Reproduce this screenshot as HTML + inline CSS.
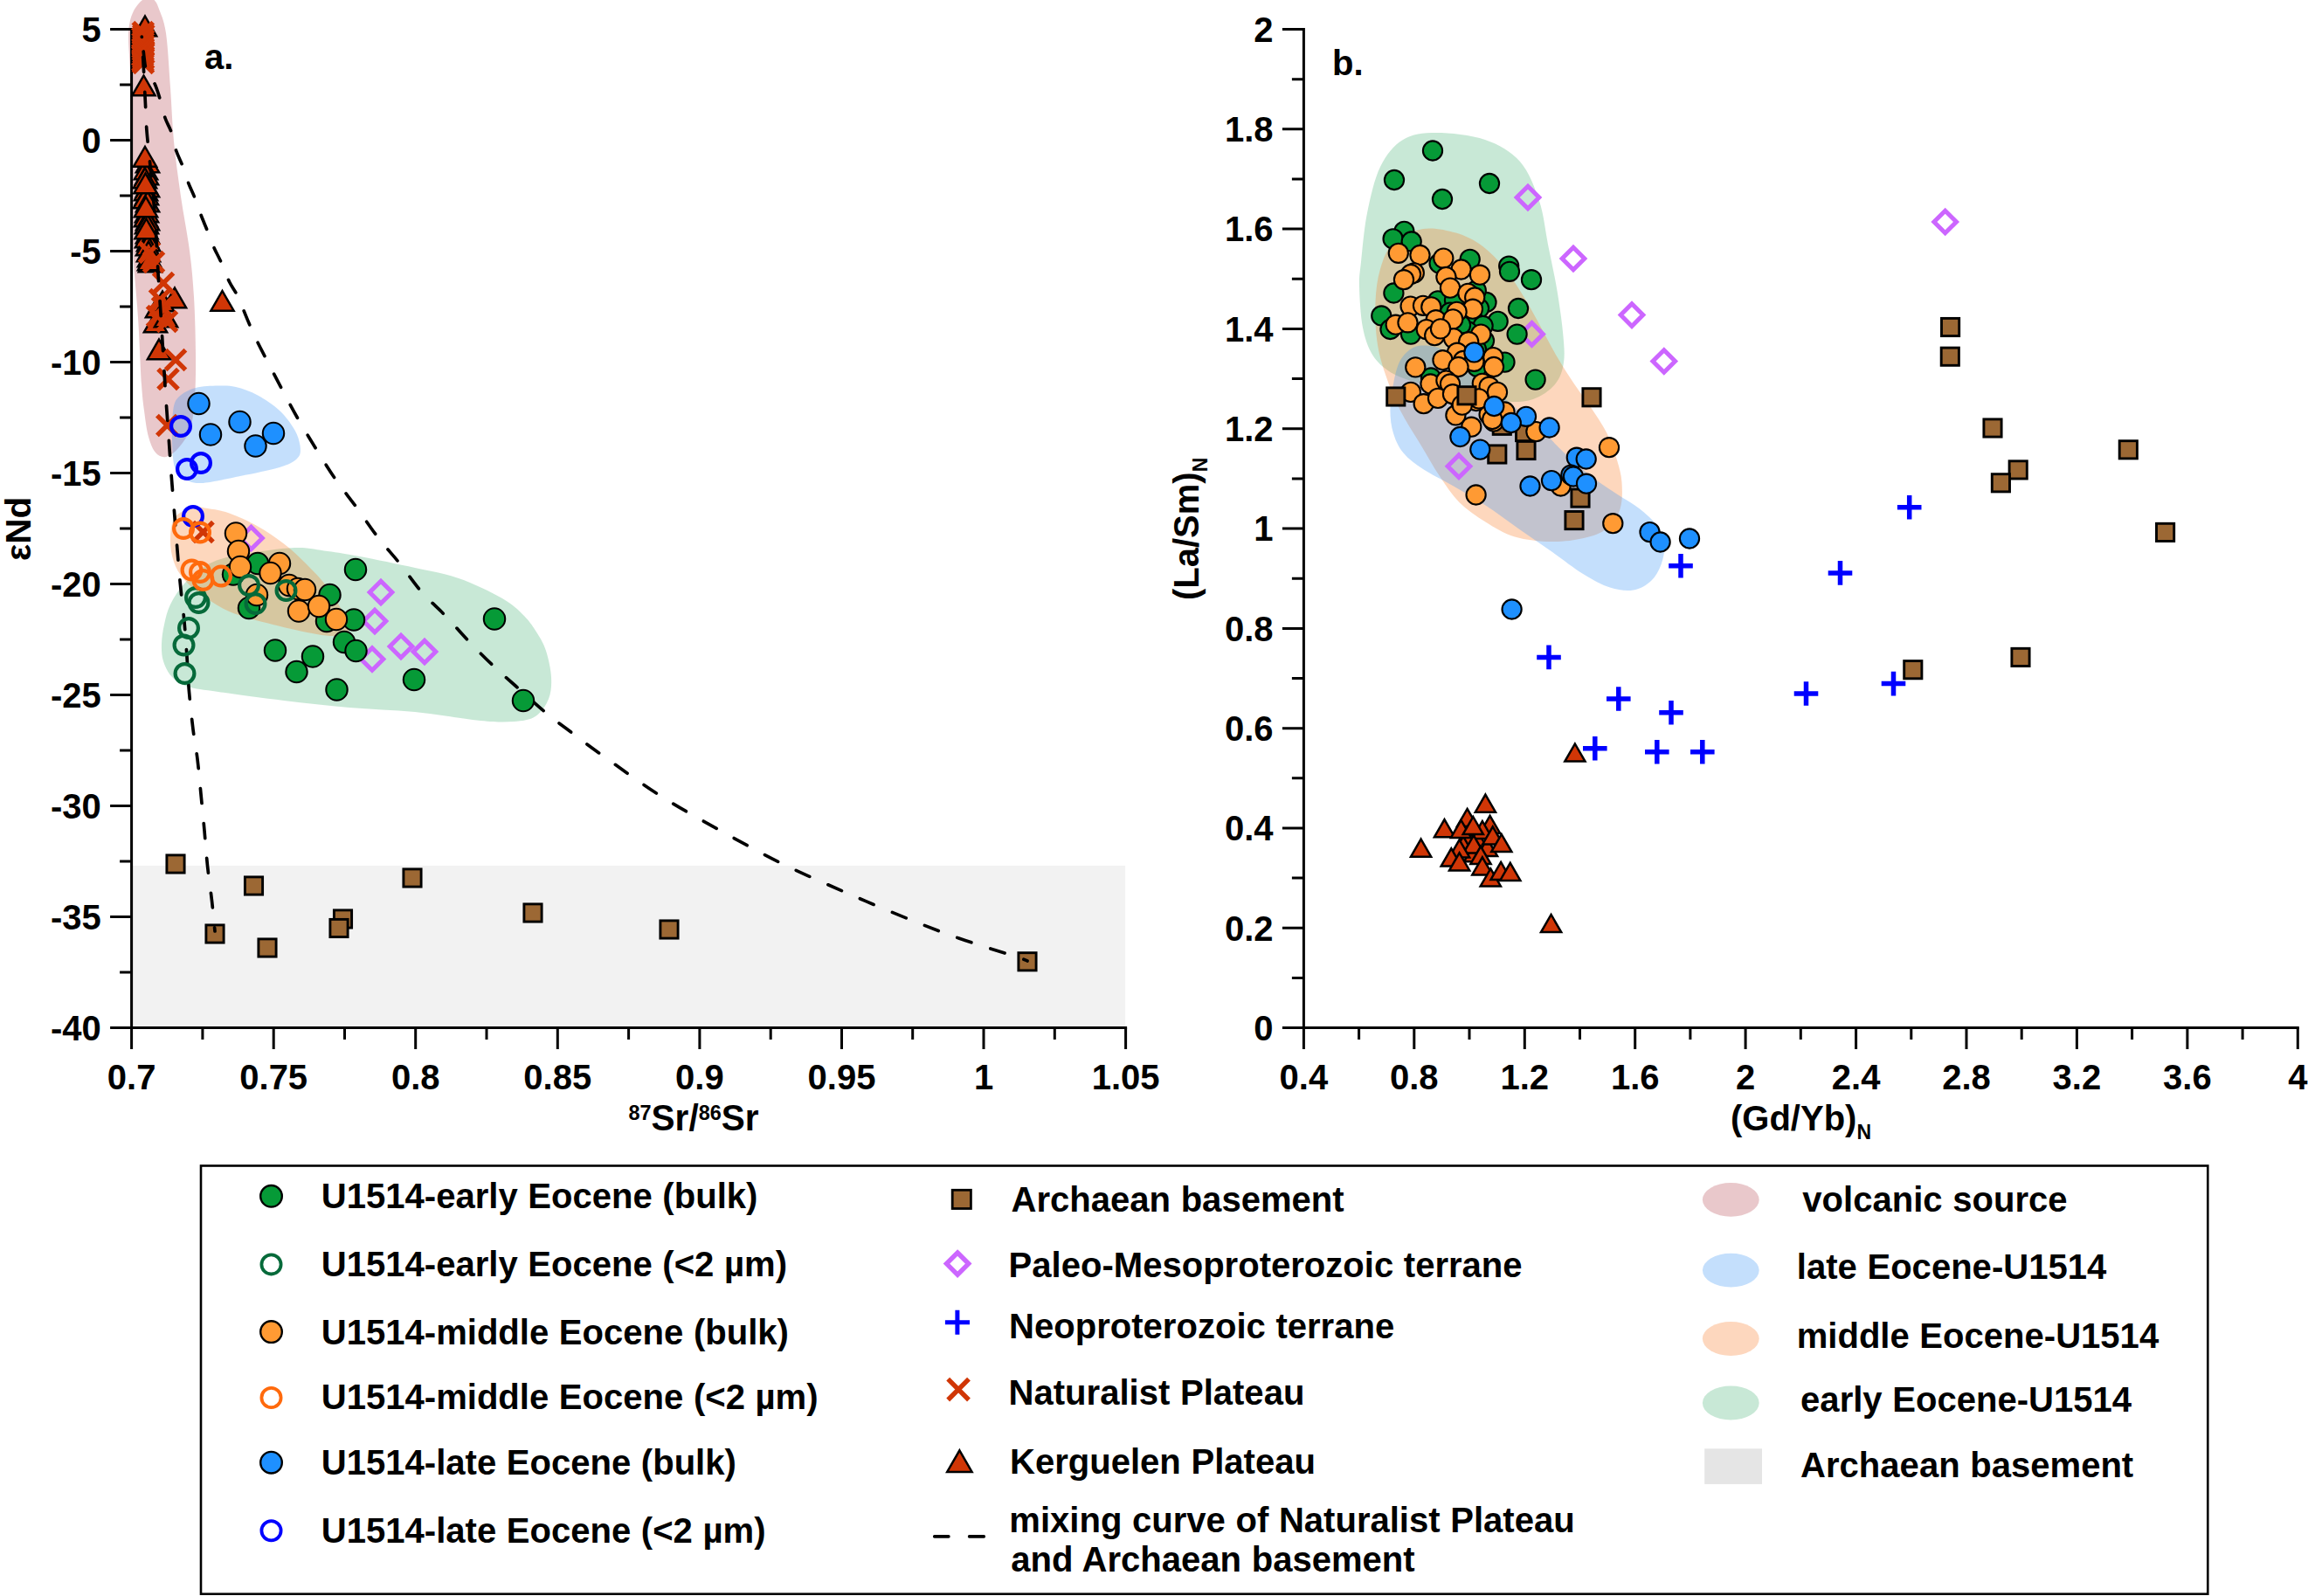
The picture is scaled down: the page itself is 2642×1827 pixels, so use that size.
<!DOCTYPE html>
<html lang="en"><head><meta charset="utf-8"><title>Sr-Nd isotopes and REE ratios of U1514 sediments</title>
<style>html,body{margin:0;padding:0;background:#fff}svg{display:block}text{font-family:'Liberation Sans', Arial, sans-serif;font-weight:bold;fill:#000;word-spacing:0.5px}</style>
</head><body>
<svg width="2642" height="1827" viewBox="0 0 2642 1827">
<rect width="2642" height="1827" fill="#fff"/>
<rect x="150.6" y="991" width="1137.5" height="185.4" fill="#F2F2F2"/>
<path d="M171.5 -4C173.5 -3.7 175.3 -1.7 177 0.5C178.7 2.7 179.3 2.8 181.5 9C183.7 15.2 187.8 22.8 190 38C192.2 53.2 193.5 79.3 195 100C196.5 120.7 197 141.2 199 162C201 182.8 204 204.2 207 225C210 245.8 214.5 267.8 217 287C219.5 306.2 220.8 320.3 222 340C223.2 359.7 223.8 385.8 224 405C224.2 424.2 224 440.8 223 455C222 469.2 221 480.5 218 490C215 499.5 209.7 506.5 205 512C200.3 517.5 194.5 522 190 523C185.5 524 181.3 521.8 178 518C174.7 514.2 172.2 508 170 500C167.8 492 166.3 480 165 470C163.7 460 163 455 162 440C161 425 159.8 395 159 380C158.2 365 158 363.3 157 350C156 336.7 153.9 315 153 300C152.1 285 151.9 276.7 151.5 260C151.1 243.3 150.8 227.5 150.5 200C150.2 172.5 150.1 120.8 149.5 95C148.9 69.2 147.2 56.5 147 45C146.8 33.5 147.6 31.2 148.5 26C149.4 20.8 150.9 17 152.5 13.5C154.1 10 155.9 7.5 158 5C160.1 2.5 162.8 0 165 -1.5C167.2 -3 169.5 -4.3 171.5 -4Z" fill="#B64852" fill-opacity="0.3"/>
<path d="M337 627C353.7 626.3 362.5 629.3 375 631C387.5 632.7 395.3 633.8 412 637C428.7 640.2 456.2 645.8 475 650C493.8 654.2 508.3 656.2 525 662C541.7 667.8 562.5 677.8 575 685C587.5 692.2 593.3 698.3 600 705C606.7 711.7 610.8 718.3 615 725C619.2 731.7 622.3 736.7 625 745C627.7 753.3 630.5 765.8 631 775C631.5 784.2 631 792.5 628 800C625 807.5 619.7 815.7 613 820C606.3 824.3 598.5 825.2 588 826C577.5 826.8 568.8 826.8 550 825C531.2 823.2 500 817.5 475 815C450 812.5 425 812.2 400 810C375 807.8 350 805 325 802C300 799 268.3 794.7 250 792C231.7 789.3 223.8 788.8 215 786C206.2 783.2 201.7 779.8 197 775C192.3 770.2 189 763.3 187 757C185 750.7 184.8 744 185 737C185.2 730 186.3 722.5 188 715C189.7 707.5 191 700 195 692C199 684 204.5 674.8 212 667C219.5 659.2 229.5 650.3 240 645C250.5 639.7 258.8 638 275 635C291.2 632 320.3 627.7 337 627Z" fill="#48B276" fill-opacity="0.3"/>
<path d="M220 581C226.2 579.2 230.4 580.9 237.5 582C244.6 583.1 252.9 584.1 262.5 587.5C272.1 590.9 284.6 596.7 295 602.5C305.4 608.3 315.8 615.4 325 622.5C334.2 629.6 341.7 636.7 350 645C358.3 653.3 367.5 662.5 375 672.5C382.5 682.5 390.8 697.1 395 705C399.2 712.9 401.2 716.2 400 720C398.8 723.8 393.8 726.5 387.5 727.5C381.2 728.5 375 728.1 362.5 726C350 723.9 329.2 719.3 312.5 715C295.8 710.7 276.2 705.8 262.5 700C248.8 694.2 238.8 686.2 230 680C221.2 673.8 215.2 668.8 210 662.5C204.8 656.2 201.2 650 198.8 642.5C196.2 635 194.8 625.8 195 617.5C195.2 609.2 195.8 598.6 200 592.5C204.2 586.4 213.8 582.8 220 581Z" fill="#F87A26" fill-opacity="0.3"/>
<path d="M250 441.5C257.7 441.3 262.5 441.2 270 443C277.5 444.8 286.7 448 295 452.5C303.3 457 312.9 463.3 320 470C327.1 476.7 333.5 485.4 337.5 492.5C341.5 499.6 343.3 507.1 343.8 512.5C344.2 517.9 344 521.2 340 525C336 528.8 330.8 531.7 320 535C309.2 538.3 290 542 275 545C260 548 240.8 552.6 230 553C219.2 553.4 215 550.5 210 547.5C205 544.5 202.2 542.1 200 535C197.8 527.9 197.3 516 197 505C196.7 494 197 477.5 198.3 469C199.6 460.5 200.7 458.2 205 454C209.3 449.8 216.5 446.1 224 444C231.5 441.9 242.3 441.7 250 441.5Z" fill="#3A94F5" fill-opacity="0.3"/>
<g stroke="#000" stroke-width="3" fill="none">
<path d="M150.6 31.9V1176.4H1290.1"/>
<path d="M150.6 33.4h-24.5M150.6 96.9h-13.5M150.6 160.4h-24.5M150.6 223.9h-13.5M150.6 287.4h-24.5M150.6 350.9h-13.5M150.6 414.4h-24.5M150.6 477.9h-13.5M150.6 541.4h-24.5M150.6 604.9h-13.5M150.6 668.4h-24.5M150.6 731.9h-13.5M150.6 795.4h-24.5M150.6 858.9h-13.5M150.6 922.4h-24.5M150.6 985.9h-13.5M150.6 1049.4h-24.5M150.6 1112.9h-13.5M150.6 1176.4h-24.5M150.6 1176.4v24.5M231.9 1176.4v13.5M313.2 1176.4v24.5M394.5 1176.4v13.5M475.7 1176.4v24.5M557 1176.4v13.5M638.3 1176.4v24.5M719.6 1176.4v13.5M800.9 1176.4v24.5M882.2 1176.4v13.5M963.5 1176.4v24.5M1044.7 1176.4v13.5M1126 1176.4v24.5M1207.3 1176.4v13.5M1288.6 1176.4v24.5"/>
</g>
<g fill="#9C6834" stroke="#000" stroke-width="2.9">
<rect x="190.9" y="978.9" width="20.2" height="20.2"/>
<rect x="280.4" y="1003.9" width="20.2" height="20.2"/>
<rect x="461.9" y="994.9" width="20.2" height="20.2"/>
<rect x="599.9" y="1034.9" width="20.2" height="20.2"/>
<rect x="382.4" y="1041.9" width="20.2" height="20.2"/>
<rect x="377.9" y="1052.4" width="20.2" height="20.2"/>
<rect x="235.9" y="1058.9" width="20.2" height="20.2"/>
<rect x="295.9" y="1074.9" width="20.2" height="20.2"/>
<rect x="755.9" y="1053.9" width="20.2" height="20.2"/>
<rect x="1165.9" y="1090.7" width="20.2" height="20.2"/>
</g>
<g fill="#D03606" stroke="#000" stroke-width="2.5" stroke-linejoin="miter">
<path d="M166 18.5L179.1 41.2L152.9 41.2Z"/>
<path d="M164.5 86.5L177.6 109.2L151.4 109.2Z"/>
<path d="M169 174.5L182.1 197.2L155.9 197.2Z"/>
<path d="M167 182.5L180.1 205.2L153.9 205.2Z"/>
<path d="M168 188.5L181.1 211.2L154.9 211.2Z"/>
<path d="M166 192.5L179.1 215.2L152.9 215.2Z"/>
<path d="M169 202.5L182.1 225.2L155.9 225.2Z"/>
<path d="M167 206.5L180.1 229.2L153.9 229.2Z"/>
<path d="M168 211.5L181.1 234.2L154.9 234.2Z"/>
<path d="M166 215.5L179.1 238.2L152.9 238.2Z"/>
<path d="M169 219.5L182.1 242.2L155.9 242.2Z"/>
<path d="M168 231.5L181.1 254.2L154.9 254.2Z"/>
<path d="M167 236.5L180.1 259.2L153.9 259.2Z"/>
<path d="M169 240.5L182.1 263.2L155.9 263.2Z"/>
<path d="M168 244.5L181.1 267.2L154.9 267.2Z"/>
<path d="M169 255.5L182.1 278.2L155.9 278.2Z"/>
<path d="M168 260.5L181.1 283.2L154.9 283.2Z"/>
<path d="M170 264.5L183.1 287.2L156.9 287.2Z"/>
<path d="M169 269.5L182.1 292.2L155.9 292.2Z"/>
<path d="M171 282.5L184.1 305.2L157.9 305.2Z"/>
<path d="M172 288.5L185.1 311.2L158.9 311.2Z"/>
<path d="M166 168L179.1 190.7L152.9 190.7Z"/>
<path d="M166.5 198.5L179.6 221.2L153.4 221.2Z"/>
<path d="M167 225.5L180.1 248.2L153.9 248.2Z"/>
<path d="M167.5 250.5L180.6 273.2L154.4 273.2Z"/>
<path d="M170 276.5L183.1 299.2L156.9 299.2Z"/>
<path d="M171 286.5L184.1 309.2L157.9 309.2Z"/>
<path d="M186 333.5L199.1 356.2L172.9 356.2Z"/>
<path d="M180 340.5L193.1 363.2L166.9 363.2Z"/>
<path d="M184 348.5L197.1 371.2L170.9 371.2Z"/>
<path d="M178 357.5L191.1 380.2L164.9 380.2Z"/>
<path d="M190 351.5L203.1 374.2L176.9 374.2Z"/>
<path d="M200 329.5L213.1 352.2L186.9 352.2Z"/>
<path d="M182 388.5L195.1 411.2L168.9 411.2Z"/>
<path d="M254.5 333L267.6 355.7L241.4 355.7Z"/>
</g>
<g stroke="#D03606" stroke-width="5.4" fill="none">
<path d="M221.1 597.6L243.9 620.4M221.1 620.4L243.9 597.6"/>
</g>
<g stroke="#D03606" stroke-width="5.4" fill="none">
<path d="M152.4 25.6L175.2 48.4M152.4 48.4L175.2 25.6"/>
<path d="M152.9 28.6L175.7 51.4M152.9 51.4L175.7 28.6"/>
<path d="M151.9 31.6L174.7 54.4M151.9 54.4L174.7 31.6"/>
<path d="M152.7 34.6L175.5 57.4M152.7 57.4L175.5 34.6"/>
<path d="M152.1 37.6L174.9 60.4M152.1 60.4L174.9 37.6"/>
<path d="M152.6 40.6L175.4 63.4M152.6 63.4L175.4 40.6"/>
<path d="M152.2 43.6L175 66.4M152.2 66.4L175 43.6"/>
<path d="M152.4 46.6L175.2 69.4M152.4 69.4L175.2 46.6"/>
<path d="M152.9 49.6L175.7 72.4M152.9 72.4L175.7 49.6"/>
<path d="M151.9 52.6L174.7 75.4M151.9 75.4L174.7 52.6"/>
<path d="M152.7 55.6L175.5 78.4M152.7 78.4L175.5 55.6"/>
<path d="M152.1 58.6L174.9 81.4M152.1 81.4L174.9 58.6"/>
<path d="M152.6 60.6L175.4 83.4M152.6 83.4L175.4 60.6"/>
<path d="M159.6 277.6L182.4 300.4M159.6 300.4L182.4 277.6"/>
<path d="M164.6 288.6L187.4 311.4M164.6 311.4L187.4 288.6"/>
<path d="M175.6 312.6L198.4 335.4M175.6 335.4L198.4 312.6"/>
<path d="M171.6 331.6L194.4 354.4M171.6 354.4L194.4 331.6"/>
<path d="M174.6 340.6L197.4 363.4M174.6 363.4L197.4 340.6"/>
<path d="M179.6 356.6L202.4 379.4M179.6 379.4L202.4 356.6"/>
<path d="M168.6 350.6L191.4 373.4M168.6 373.4L191.4 350.6"/>
<path d="M189.6 400.6L212.4 423.4M189.6 423.4L212.4 400.6"/>
<path d="M181.1 422.6L203.9 445.4M181.1 445.4L203.9 422.6"/>
<path d="M179.9 475.6L202.7 498.4M179.9 498.4L202.7 475.6"/>
</g>
<g fill="none" stroke="#000" stroke-width="3.7" stroke-dasharray="17 23" stroke-linecap="round">
<path d="M162.3 42C162.7 48.3 163.8 67 164.5 80C165.2 93 165.9 108.3 166.5 120C167.1 131.7 167 137.5 168 150C169 162.5 170.9 178.3 172.5 195C174.1 211.7 176.1 230.5 177.5 250C178.9 269.5 179.8 291.2 181 312C182.2 332.8 183.7 353.3 185 375C186.3 396.7 187.8 422.5 189 442C190.2 461.5 191.3 475.3 192.5 492C193.7 508.7 194.8 525.3 196 542C197.2 558.7 198.7 575.3 200 592C201.3 608.7 202.8 627.3 204 642C205.2 656.7 206.3 668.3 207.5 680C208.7 691.7 209.9 700 211 712C212.1 724 213.1 738.7 214 752C214.9 765.3 215.3 778.2 216.5 792C217.7 805.8 219.4 822.2 221 835C222.6 847.8 224.5 856.7 226 869C227.5 881.3 228.7 895.3 230 909C231.3 922.7 232.8 937.3 234 951C235.2 964.7 236.1 977.7 237.5 991C238.9 1004.3 241.1 1018.5 242.5 1031C243.9 1043.5 245.4 1060.2 246 1066" stroke-dashoffset="16.5"/>
<path d="M162.6 43C162.8 45 163.4 51.2 163.8 55C164.2 58.8 164.5 62.3 165 66C165.5 69.7 165.7 73.6 166.6 77C167.5 80.4 168.8 83.5 170.5 86.5C172.2 89.5 174.7 91 176.8 95.3C178.9 99.6 180.9 106 182.9 112.6C184.9 119.2 186.8 128.6 189 135C191.2 141.4 193.9 144.8 196 151C198.1 157.2 199.3 165.5 201.5 172C203.7 178.5 206.7 183.8 209 190C211.3 196.2 213.2 202.9 215.5 209C217.8 215.1 220.6 220.3 223 226.5C225.4 232.7 227.6 239.7 230 246C232.4 252.3 235 258.2 237.5 264.5C240 270.8 242.4 277.6 245 283.5C247.6 289.4 250.1 293.5 253 300C255.9 306.5 259.2 315.8 262.5 322.5C265.8 329.2 268.8 332.1 272.5 340C276.2 347.9 280.8 360.5 285 370C289.2 379.5 291.2 384.5 297.5 397C303.8 409.5 315.4 431.6 322.5 445C329.6 458.4 333.3 465.8 340 477.5C346.7 489.2 355 502.9 362.5 515C370 527.1 377.5 539.2 385 550C392.5 560.8 399.6 569.2 407.5 580C415.4 590.8 424.2 604.2 432.5 615C440.8 625.8 449.2 634.6 457.5 645C465.8 655.4 473.8 667.5 482.5 677.5C491.2 687.5 500.8 695.4 510 705C519.2 714.6 528.3 725.4 537.5 735C546.7 744.6 556.2 754.2 565 762.5C573.8 770.8 580 776.1 590 785C600 793.9 613.8 806.7 625 816C636.2 825.3 646.7 832.8 657.5 841C668.3 849.2 673.6 853.3 690 865C706.4 876.7 733.5 896.7 756 911C778.5 925.3 801.7 938 825 951C848.3 964 871.8 977.1 896 989C920.2 1000.9 945.6 1011.8 970 1022.5C994.4 1033.2 1021.2 1044.4 1042.5 1053C1063.8 1061.6 1077.5 1067 1097.5 1074C1117.5 1081 1149.4 1090.7 1162.5 1095C1175.6 1099.3 1173.8 1099.2 1176 1100" stroke-dashoffset="24"/>
</g>
<g fill="none" stroke="#CC66FF" stroke-width="5">
<path d="M287.5 603.2L300.3 616L287.5 628.8L274.7 616Z"/>
<path d="M436 665.2L448.8 678L436 690.8L423.2 678Z"/>
<path d="M429 698.2L441.8 711L429 723.8L416.2 711Z"/>
<path d="M459 727.2L471.8 740L459 752.8L446.2 740Z"/>
<path d="M486 733.2L498.8 746L486 758.8L473.2 746Z"/>
<path d="M426 741.7L438.8 754.5L426 767.3L413.2 754.5Z"/>
</g>
<g fill="#069A37" stroke="#000" stroke-width="2.1">
<circle cx="295" cy="645" r="12.2"/>
<circle cx="267" cy="657.5" r="12.2"/>
<circle cx="407" cy="652" r="12.2"/>
<circle cx="377.5" cy="681" r="12.2"/>
<circle cx="285" cy="696" r="12.2"/>
<circle cx="405" cy="709.5" r="12.2"/>
<circle cx="374" cy="711" r="12.2"/>
<circle cx="566" cy="708.5" r="12.2"/>
<circle cx="394" cy="735" r="12.2"/>
<circle cx="407.5" cy="745" r="12.2"/>
<circle cx="315" cy="744.5" r="12.2"/>
<circle cx="358" cy="751.5" r="12.2"/>
<circle cx="339.5" cy="769" r="12.2"/>
<circle cx="474" cy="778" r="12.2"/>
<circle cx="385.5" cy="789.5" r="12.2"/>
<circle cx="599" cy="802" r="12.2"/>
</g>
<g fill="#FF9A33" stroke="#000" stroke-width="2.1">
<circle cx="270" cy="610.5" r="12.2"/>
<circle cx="273" cy="631" r="12.2"/>
<circle cx="275" cy="649" r="12.2"/>
<circle cx="320" cy="645" r="12.2"/>
<circle cx="309.5" cy="656" r="12.2"/>
<circle cx="331" cy="670" r="12.2"/>
<circle cx="341" cy="674" r="12.2"/>
<circle cx="349" cy="675" r="12.2"/>
<circle cx="294" cy="681" r="12.2"/>
<circle cx="342" cy="699.5" r="12.2"/>
<circle cx="365" cy="694" r="12.2"/>
<circle cx="385" cy="709" r="12.2"/>
</g>
<g fill="#1E90FF" stroke="#000" stroke-width="2.1">
<circle cx="227.5" cy="462" r="12.2"/>
<circle cx="274.5" cy="483" r="12.2"/>
<circle cx="241" cy="497.5" r="12.2"/>
<circle cx="313" cy="496" r="12.2"/>
<circle cx="292.5" cy="510.5" r="12.2"/>
</g>
<g fill="none" stroke="#066A3A" stroke-width="4.2">
<circle cx="285" cy="670" r="10.9"/>
<circle cx="327.5" cy="676" r="10.9"/>
<circle cx="292.5" cy="691" r="10.9"/>
<circle cx="224" cy="684" r="10.9"/>
<circle cx="227.5" cy="690" r="10.9"/>
<circle cx="216" cy="719" r="10.9"/>
<circle cx="210.5" cy="738.5" r="10.9"/>
<circle cx="211.5" cy="771" r="10.9"/>
</g>
<g fill="none" stroke="#0000FF" stroke-width="4.2">
<circle cx="207" cy="488" r="10.9"/>
<circle cx="230" cy="530" r="10.9"/>
<circle cx="214" cy="537" r="10.9"/>
<circle cx="221" cy="591" r="10.9"/>
</g>
<g fill="none" stroke="#FF6A0D" stroke-width="4.2">
<circle cx="210" cy="605" r="10.9"/>
<circle cx="229" cy="609.5" r="10.9"/>
<circle cx="219.5" cy="652.5" r="10.9"/>
<circle cx="229" cy="655" r="10.9"/>
<circle cx="232.5" cy="664" r="10.9"/>
<circle cx="253" cy="659.5" r="10.9"/>
</g>
<text x="115.8" y="48" font-size="40" text-anchor="end">5</text>
<text x="115.8" y="175" font-size="40" text-anchor="end">0</text>
<text x="115.8" y="302" font-size="40" text-anchor="end">-5</text>
<text x="115.8" y="429" font-size="40" text-anchor="end">-10</text>
<text x="115.8" y="556" font-size="40" text-anchor="end">-15</text>
<text x="115.8" y="683" font-size="40" text-anchor="end">-20</text>
<text x="115.8" y="810" font-size="40" text-anchor="end">-25</text>
<text x="115.8" y="937" font-size="40" text-anchor="end">-30</text>
<text x="115.8" y="1064" font-size="40" text-anchor="end">-35</text>
<text x="115.8" y="1191" font-size="40" text-anchor="end">-40</text>
<text x="150.6" y="1247.2" font-size="40" text-anchor="middle">0.7</text>
<text x="313.2" y="1247.2" font-size="40" text-anchor="middle">0.75</text>
<text x="475.7" y="1247.2" font-size="40" text-anchor="middle">0.8</text>
<text x="638.3" y="1247.2" font-size="40" text-anchor="middle">0.85</text>
<text x="800.9" y="1247.2" font-size="40" text-anchor="middle">0.9</text>
<text x="963.5" y="1247.2" font-size="40" text-anchor="middle">0.95</text>
<text x="1126" y="1247.2" font-size="40" text-anchor="middle">1</text>
<text x="1288.6" y="1247.2" font-size="40" text-anchor="middle">1.05</text>
<text x="234" y="79.2" font-size="40" text-anchor="start">a.</text>
<text transform="translate(719.5 1294.4) scale(0.977 1.02)" font-size="41.5"><tspan font-size="24" dy="-12.3">87</tspan><tspan dy="12.3">Sr/</tspan><tspan font-size="24" dy="-12.3">86</tspan><tspan dy="12.3">Sr</tspan></text>
<text transform="translate(34.8 642) rotate(-90)" font-size="40.6">εNd</text>
<path d="M1644 152C1659.7 152 1684 154.5 1700 160C1716 165.5 1729.7 173.3 1740 185C1750.3 196.7 1756.7 214.2 1762 230C1767.3 245.8 1768.7 263.3 1772 280C1775.3 296.7 1779.2 313.3 1782 330C1784.8 346.7 1787.7 365.8 1789 380C1790.3 394.2 1791.5 405 1790 415C1788.5 425 1785.8 433 1780 440C1774.2 447 1764.2 453.7 1755 457C1745.8 460.3 1735.8 460.3 1725 460C1714.2 459.7 1702.5 457.3 1690 455C1677.5 452.7 1662.5 449.2 1650 446C1637.5 442.8 1625 439.5 1615 436C1605 432.5 1597.3 430 1590 425C1582.7 420 1576 414.3 1571 406C1566 397.7 1562.5 388 1560 375C1557.5 362 1556.3 340.5 1556 328C1555.7 315.5 1556.5 314 1558 300C1559.5 286 1561.3 262.2 1565 244C1568.7 225.8 1573.2 205 1580 191C1586.8 177 1595.3 166.5 1606 160C1616.7 153.5 1628.3 152 1644 152Z" fill="#48B276" fill-opacity="0.3"/>
<path d="M1629 262C1640.9 260.1 1655.3 263.3 1666.6 266.6C1677.9 269.9 1687.3 274.7 1696.7 281.6C1706.1 288.5 1714.8 298 1723 308C1731.2 318 1738.7 330.5 1745.6 341.8C1752.5 353.1 1758.2 364.3 1764.4 375.6C1770.6 386.9 1776.7 398.9 1783 409.5C1789.3 420.1 1795.7 430.1 1802 439.5C1808.3 448.9 1814.5 456.5 1820.8 465.9C1827 475.3 1834.5 486 1839.5 496C1844.5 506 1848 516.6 1850.8 526C1853.6 535.4 1855.9 542.9 1856.5 552.3C1857.1 561.7 1857.4 573.6 1854.6 582.4C1851.8 591.2 1846.4 599.4 1839.5 605C1832.6 610.6 1823.7 613.5 1813 616C1802.3 618.5 1788.8 620.3 1775.6 620C1762.4 619.7 1746.5 618.2 1734 614.4C1721.5 610.6 1711.1 604 1700.5 597.4C1689.9 590.8 1679.2 583.7 1670.4 574.9C1661.6 566.1 1655.4 556.1 1647.8 544.8C1640.2 533.5 1632.5 519.5 1625 507C1617.5 494.5 1609.2 482.7 1602.7 469.6C1596.2 456.5 1590.2 441.5 1585.8 428.3C1581.4 415.1 1578.3 404.5 1576.4 390.7C1574.5 376.9 1573.9 359.4 1574.5 345.6C1575.1 331.8 1576.6 319.3 1580 308C1583.4 296.7 1586.8 285.7 1595 278C1603.2 270.3 1617.1 263.9 1629 262Z" fill="#F87A26" fill-opacity="0.3"/>
<path d="M1636.5 396C1642.7 396.7 1647.5 397.9 1655 402C1662.5 406.1 1672.9 413.9 1681.7 420.7C1690.5 427.5 1699.3 435.5 1708 443C1716.7 450.5 1724.6 457.7 1734 465.9C1743.4 474.1 1755 483.2 1764.4 492C1773.9 500.8 1781.3 509.7 1790.7 518.5C1800.1 527.3 1810.8 537 1820.8 544.8C1830.8 552.6 1841.4 559.2 1850.8 565.5C1860.2 571.8 1869.5 576.5 1877 582.4C1884.5 588.3 1891.3 594.1 1896 601C1900.7 607.9 1904.1 616.3 1905 623.8C1905.9 631.3 1904.1 639.1 1901.6 646C1899.1 652.9 1895.3 660.1 1890 665C1884.7 669.9 1877.4 674.3 1869.6 675.6C1861.8 676.9 1852.4 675.6 1843 672.6C1833.6 669.6 1824.2 664.4 1813 657.5C1801.8 650.6 1788.1 639.8 1775.6 631C1763.1 622.2 1750.5 613.7 1738 605C1725.5 596.3 1713 586.8 1700.5 578.6C1688 570.4 1674.9 562.9 1663 556C1651.1 549.1 1638.4 543.2 1629 537C1619.6 530.8 1612.2 525.3 1606.5 518.5C1600.8 511.7 1597.5 504.1 1595 496C1592.5 487.9 1591.4 479 1591.4 469.6C1591.4 460.2 1593.1 448.9 1595 439.5C1596.9 430.1 1598.9 419.9 1602.7 413C1606.5 406.1 1612.1 400.8 1617.7 398C1623.3 395.2 1630.3 395.3 1636.5 396Z" fill="#3A94F5" fill-opacity="0.3"/>
<g stroke="#000" stroke-width="3" fill="none">
<path d="M1492.4 32V1176.6H2631.8"/>
<path d="M1492.4 33.5h-24.5M1492.4 90.7h-13.5M1492.4 147.8h-24.5M1492.4 205h-13.5M1492.4 262.1h-24.5M1492.4 319.3h-13.5M1492.4 376.4h-24.5M1492.4 433.6h-13.5M1492.4 490.7h-24.5M1492.4 547.9h-13.5M1492.4 605h-24.5M1492.4 662.2h-13.5M1492.4 719.4h-24.5M1492.4 776.5h-13.5M1492.4 833.7h-24.5M1492.4 890.8h-13.5M1492.4 948h-24.5M1492.4 1005.1h-13.5M1492.4 1062.3h-24.5M1492.4 1119.4h-13.5M1492.4 1176.6h-24.5M1492.4 1176.6v24.5M1555.6 1176.6v13.5M1618.8 1176.6v24.5M1682 1176.6v13.5M1745.3 1176.6v24.5M1808.5 1176.6v13.5M1871.7 1176.6v24.5M1934.9 1176.6v13.5M1998.1 1176.6v24.5M2061.3 1176.6v13.5M2124.6 1176.6v24.5M2187.8 1176.6v13.5M2251 1176.6v24.5M2314.2 1176.6v13.5M2377.4 1176.6v24.5M2440.6 1176.6v13.5M2503.9 1176.6v24.5M2567.1 1176.6v13.5M2630.3 1176.6v24.5"/>
</g>
<g fill="none" stroke="#CC66FF" stroke-width="5">
<path d="M1749 213.2L1761.8 226L1749 238.8L1736.2 226Z"/>
<path d="M1801 283.2L1813.8 296L1801 308.8L1788.2 296Z"/>
<path d="M1868 347.8L1880.8 360.6L1868 373.4L1855.2 360.6Z"/>
<path d="M1753.5 369.6L1766.3 382.4L1753.5 395.2L1740.7 382.4Z"/>
<path d="M1904.8 400.7L1917.6 413.5L1904.8 426.3L1892 413.5Z"/>
<path d="M2226.7 241.2L2239.5 254L2226.7 266.8L2213.9 254Z"/>
<path d="M1670 520.9L1682.8 533.7L1670 546.5L1657.2 533.7Z"/>
</g>
<g fill="#069A37" stroke="#000" stroke-width="2.1">
<circle cx="1640" cy="172.5" r="11.1"/>
<circle cx="1596" cy="206" r="11.1"/>
<circle cx="1705" cy="210" r="11.1"/>
<circle cx="1651" cy="228" r="11.1"/>
<circle cx="1607.4" cy="264.8" r="11.1"/>
<circle cx="1594.6" cy="273.4" r="11.1"/>
<circle cx="1615.7" cy="276.5" r="11.1"/>
<circle cx="1682.7" cy="296.8" r="11.1"/>
<circle cx="1727.2" cy="304.6" r="11.1"/>
<circle cx="1728" cy="310.8" r="11.1"/>
<circle cx="1753" cy="320.2" r="11.1"/>
<circle cx="1647.6" cy="301.5" r="11.1"/>
<circle cx="1595.4" cy="335.5" r="11.1"/>
<circle cx="1646" cy="344.4" r="11.1"/>
<circle cx="1701.5" cy="346" r="11.1"/>
<circle cx="1738" cy="353" r="11.1"/>
<circle cx="1581.3" cy="361.5" r="11.1"/>
<circle cx="1714.7" cy="367.8" r="11.1"/>
<circle cx="1736.6" cy="382.6" r="11.1"/>
<circle cx="1591.5" cy="377" r="11.1"/>
<circle cx="1615" cy="382.6" r="11.1"/>
<circle cx="1689.8" cy="332.7" r="11.1"/>
<circle cx="1693" cy="353" r="11.1"/>
<circle cx="1686.6" cy="367" r="11.1"/>
<circle cx="1697.6" cy="373" r="11.1"/>
<circle cx="1680.4" cy="379.5" r="11.1"/>
<circle cx="1699" cy="390" r="11.1"/>
<circle cx="1722.5" cy="414.6" r="11.1"/>
<circle cx="1691" cy="420" r="11.1"/>
<circle cx="1638" cy="432.5" r="11.1"/>
<circle cx="1757.6" cy="434.6" r="11.1"/>
<circle cx="1665" cy="343.6" r="11.1"/>
<circle cx="1660" cy="357.6" r="11.1"/>
<circle cx="1672" cy="372" r="11.1"/>
<circle cx="1678" cy="392" r="11.1"/>
<circle cx="1690" cy="400" r="11.1"/>
</g>
<g fill="#9C6834" stroke="#000" stroke-width="2.9">
<rect x="1709.2" y="477.2" width="20.2" height="20.2"/>
<rect x="1735.5" y="484.5" width="20.2" height="20.2"/>
<rect x="1798.9" y="560" width="20.2" height="20.2"/>
</g>
<g fill="#FF9A33" stroke="#000" stroke-width="2.1">
<circle cx="1600.8" cy="289.8" r="11.1"/>
<circle cx="1625.5" cy="292" r="11.1"/>
<circle cx="1652.3" cy="295.6" r="11.1"/>
<circle cx="1672.6" cy="308.5" r="11.1"/>
<circle cx="1694" cy="314.7" r="11.1"/>
<circle cx="1655.4" cy="317" r="11.1"/>
<circle cx="1618.8" cy="312.4" r="11.1"/>
<circle cx="1615" cy="314" r="11.1"/>
<circle cx="1607" cy="320.2" r="11.1"/>
<circle cx="1660" cy="329.6" r="11.1"/>
<circle cx="1680.4" cy="335.8" r="11.1"/>
<circle cx="1688.2" cy="340.5" r="11.1"/>
<circle cx="1685.9" cy="353.7" r="11.1"/>
<circle cx="1614.6" cy="350.6" r="11.1"/>
<circle cx="1629" cy="349.8" r="11.1"/>
<circle cx="1638.3" cy="351.4" r="11.1"/>
<circle cx="1667.6" cy="356.9" r="11.1"/>
<circle cx="1643.7" cy="366.2" r="11.1"/>
<circle cx="1663.2" cy="365.4" r="11.1"/>
<circle cx="1597.7" cy="371.7" r="11.1"/>
<circle cx="1611.5" cy="369.3" r="11.1"/>
<circle cx="1632.8" cy="377.1" r="11.1"/>
<circle cx="1642.2" cy="384.2" r="11.1"/>
<circle cx="1664" cy="387.3" r="11.1"/>
<circle cx="1695.2" cy="382.6" r="11.1"/>
<circle cx="1681.2" cy="391.2" r="11.1"/>
<circle cx="1649" cy="376.4" r="11.1"/>
<circle cx="1668" cy="403.7" r="11.1"/>
<circle cx="1651.5" cy="412.2" r="11.1"/>
<circle cx="1675" cy="413" r="11.1"/>
<circle cx="1687.4" cy="413.8" r="11.1"/>
<circle cx="1709.3" cy="409.1" r="11.1"/>
<circle cx="1710" cy="420" r="11.1"/>
<circle cx="1669.5" cy="420" r="11.1"/>
<circle cx="1620.3" cy="420.4" r="11.1"/>
<circle cx="1637.5" cy="439.5" r="11.1"/>
<circle cx="1655.4" cy="435.6" r="11.1"/>
<circle cx="1660" cy="439.5" r="11.1"/>
<circle cx="1696.8" cy="438.8" r="11.1"/>
<circle cx="1704.6" cy="442.7" r="11.1"/>
<circle cx="1714" cy="448.9" r="11.1"/>
<circle cx="1614.9" cy="448.9" r="11.1"/>
<circle cx="1629.7" cy="462.2" r="11.1"/>
<circle cx="1646" cy="455.9" r="11.1"/>
<circle cx="1672.6" cy="462.2" r="11.1"/>
<circle cx="1666.4" cy="475.4" r="11.1"/>
<circle cx="1684.3" cy="488.7" r="11.1"/>
<circle cx="1704.6" cy="474.6" r="11.1"/>
<circle cx="1710" cy="482.4" r="11.1"/>
<circle cx="1722.5" cy="471.5" r="11.1"/>
<circle cx="1758.4" cy="494.1" r="11.1"/>
<circle cx="1689.8" cy="459" r="11.1"/>
<circle cx="1663" cy="451.2" r="11.1"/>
<circle cx="1842" cy="512.2" r="11.1"/>
<circle cx="1689.6" cy="566.5" r="11.1"/>
<circle cx="1786.6" cy="556.5" r="11.1"/>
<circle cx="1846.3" cy="599.2" r="11.1"/>
<circle cx="1673.8" cy="463.7" r="11.1"/>
<circle cx="1692.9" cy="456.4" r="11.1"/>
<circle cx="1708.3" cy="480" r="11.1"/>
</g>
<g fill="#9C6834" stroke="#000" stroke-width="2.9">
<rect x="1587.7" y="443.9" width="20.2" height="20.2"/>
<rect x="1668.9" y="442.7" width="20.2" height="20.2"/>
<rect x="1811.9" y="444.7" width="20.2" height="20.2"/>
<rect x="1736.9" y="505.4" width="20.2" height="20.2"/>
<rect x="1703.7" y="509.9" width="20.2" height="20.2"/>
<rect x="1791.9" y="585.5" width="20.2" height="20.2"/>
<rect x="2222.5" y="364.4" width="20.2" height="20.2"/>
<rect x="2222.2" y="398.1" width="20.2" height="20.2"/>
<rect x="2270.9" y="479.9" width="20.2" height="20.2"/>
<rect x="2426.2" y="504.7" width="20.2" height="20.2"/>
<rect x="2300.1" y="527.8" width="20.2" height="20.2"/>
<rect x="2280.3" y="542.7" width="20.2" height="20.2"/>
<rect x="2468.5" y="599.3" width="20.2" height="20.2"/>
<rect x="2179.7" y="756.6" width="20.2" height="20.2"/>
<rect x="2302.9" y="742.3" width="20.2" height="20.2"/>
</g>
<g fill="#1E90FF" stroke="#000" stroke-width="2.1">
<circle cx="1687.4" cy="403.4" r="11.1"/>
<circle cx="1710.3" cy="465" r="11.1"/>
<circle cx="1747" cy="476.8" r="11.1"/>
<circle cx="1729.8" cy="484" r="11.1"/>
<circle cx="1773.6" cy="489.5" r="11.1"/>
<circle cx="1671.4" cy="500" r="11.1"/>
<circle cx="1694.3" cy="514.6" r="11.1"/>
<circle cx="1804.8" cy="523.7" r="11.1"/>
<circle cx="1815.7" cy="525.5" r="11.1"/>
<circle cx="1798.4" cy="543.7" r="11.1"/>
<circle cx="1801" cy="545.5" r="11.1"/>
<circle cx="1776" cy="550.1" r="11.1"/>
<circle cx="1751.5" cy="556.5" r="11.1"/>
<circle cx="1816" cy="553.7" r="11.1"/>
<circle cx="1888.5" cy="609.1" r="11.1"/>
<circle cx="1900.6" cy="620.5" r="11.1"/>
<circle cx="1934" cy="616.5" r="11.1"/>
<circle cx="1730.6" cy="697.5" r="11.1"/>
</g>
<g stroke="#0000FF" stroke-width="5.5" fill="none">
<path d="M1910.2 647.7H1937.8M1924 633.9V661.5"/>
<path d="M2092.7 655.9H2120.3M2106.5 642.1V669.7"/>
<path d="M2171.9 580.8H2199.5M2185.7 567V594.6"/>
<path d="M1759.2 752.4H1786.8M1773 738.6V766.2"/>
<path d="M1839 800H1866.6M1852.8 786.2V813.8"/>
<path d="M1899.2 815.7H1926.8M1913 801.9V829.5"/>
<path d="M2053.7 794H2081.3M2067.5 780.2V807.8"/>
<path d="M2153.7 782.6H2181.3M2167.5 768.8V796.4"/>
<path d="M1812 856.7H1839.6M1825.8 842.9V870.5"/>
<path d="M1883 860.8H1910.6M1896.8 847V874.6"/>
<path d="M1935 860.8H1962.6M1948.8 847V874.6"/>
</g>
<g fill="#D03606" stroke="#000" stroke-width="2.5" stroke-linejoin="miter">
<path d="M1802.9 851.5L1814.5 871.6L1791.3 871.6Z"/>
<path d="M1775.6 1047L1787.2 1067.1L1764 1067.1Z"/>
<path d="M1680 947.5L1691.6 967.6L1668.4 967.6Z"/>
<path d="M1692.5 953.5L1704.1 973.6L1680.9 973.6Z"/>
<path d="M1675 957.5L1686.6 977.6L1663.4 977.6Z"/>
<path d="M1702.5 960L1714.1 980.1L1690.9 980.1Z"/>
<path d="M1687.5 966.2L1699.1 986.3L1675.9 986.3Z"/>
<path d="M1700.4 909.6L1712 929.7L1688.8 929.7Z"/>
<path d="M1653.5 938.1L1665.1 958.2L1641.9 958.2Z"/>
<path d="M1626.6 960.6L1638.2 980.7L1615 980.7Z"/>
<path d="M1679.6 925.9L1691.2 946L1668 946Z"/>
<path d="M1672.5 938.8L1684.1 958.9L1660.9 958.9Z"/>
<path d="M1705.6 933.8L1717.2 953.9L1694 953.9Z"/>
<path d="M1696.9 940L1708.5 960.1L1685.3 960.1Z"/>
<path d="M1708.8 946.3L1720.4 966.4L1697.2 966.4Z"/>
<path d="M1686.3 935L1697.9 955.1L1674.7 955.1Z"/>
<path d="M1718.8 955L1730.4 975.1L1707.2 975.1Z"/>
<path d="M1686.9 956.3L1698.5 976.4L1675.3 976.4Z"/>
<path d="M1670.6 961.3L1682.2 981.4L1659 981.4Z"/>
<path d="M1695 968.8L1706.6 988.9L1683.4 988.9Z"/>
<path d="M1661.3 971.3L1672.9 991.4L1649.7 991.4Z"/>
<path d="M1670.6 976.3L1682.2 996.4L1659 996.4Z"/>
<path d="M1696.9 981.3L1708.5 1001.4L1685.3 1001.4Z"/>
<path d="M1706.3 994.4L1717.9 1014.5L1694.7 1014.5Z"/>
<path d="M1718.1 986.9L1729.7 1007L1706.5 1007Z"/>
<path d="M1728.8 987.8L1740.4 1007.9L1717.2 1007.9Z"/>
</g>
<text x="1457.5" y="47.8" font-size="40" text-anchor="end">2</text>
<text x="1457.5" y="162.1" font-size="40" text-anchor="end">1.8</text>
<text x="1457.5" y="276.4" font-size="40" text-anchor="end">1.6</text>
<text x="1457.5" y="390.7" font-size="40" text-anchor="end">1.4</text>
<text x="1457.5" y="505" font-size="40" text-anchor="end">1.2</text>
<text x="1457.5" y="619.3" font-size="40" text-anchor="end">1</text>
<text x="1457.5" y="733.7" font-size="40" text-anchor="end">0.8</text>
<text x="1457.5" y="848" font-size="40" text-anchor="end">0.6</text>
<text x="1457.5" y="962.3" font-size="40" text-anchor="end">0.4</text>
<text x="1457.5" y="1076.6" font-size="40" text-anchor="end">0.2</text>
<text x="1457.5" y="1190.9" font-size="40" text-anchor="end">0</text>
<text x="1492.4" y="1247.2" font-size="40" text-anchor="middle">0.4</text>
<text x="1618.8" y="1247.2" font-size="40" text-anchor="middle">0.8</text>
<text x="1745.3" y="1247.2" font-size="40" text-anchor="middle">1.2</text>
<text x="1871.7" y="1247.2" font-size="40" text-anchor="middle">1.6</text>
<text x="1998.1" y="1247.2" font-size="40" text-anchor="middle">2</text>
<text x="2124.6" y="1247.2" font-size="40" text-anchor="middle">2.4</text>
<text x="2251" y="1247.2" font-size="40" text-anchor="middle">2.8</text>
<text x="2377.4" y="1247.2" font-size="40" text-anchor="middle">3.2</text>
<text x="2503.9" y="1247.2" font-size="40" text-anchor="middle">3.6</text>
<text x="2630.3" y="1247.2" font-size="40" text-anchor="middle">4</text>
<text x="1525" y="86" font-size="40" text-anchor="start">b.</text>
<text x="1981" y="1294" font-size="40">(Gd/Yb)<tspan font-size="23" dy="9.5">N</tspan></text>
<text transform="translate(1372 687) rotate(-90)" font-size="40">(La/Sm)<tspan font-size="23" dy="10">N</tspan></text>
<rect x="230" y="1334.5" width="2297.3" height="490.2" fill="none" stroke="#000" stroke-width="2.6"/>
<circle cx="310.5" cy="1369.3" r="12.3" fill="#069A37" stroke="#000" stroke-width="2.4"/>
<text x="367.8" y="1383.2" font-size="40.05" text-anchor="start">U1514-early Eocene (bulk)</text>
<circle cx="310.5" cy="1447.4" r="11.1" fill="none" stroke="#066A3A" stroke-width="3.8"/>
<text x="367.8" y="1461.2" font-size="40.05" text-anchor="start">U1514-early Eocene (&lt;2 µm)</text>
<circle cx="310.5" cy="1524.6" r="12.3" fill="#FF9A33" stroke="#000" stroke-width="2.4"/>
<text x="367.8" y="1538.7" font-size="40.05" text-anchor="start">U1514-middle Eocene (bulk)</text>
<circle cx="310.5" cy="1600" r="11.1" fill="none" stroke="#FF6A0D" stroke-width="3.8"/>
<text x="367.8" y="1613.2" font-size="40.05" text-anchor="start">U1514-middle Eocene (&lt;2 µm)</text>
<circle cx="310.5" cy="1674.2" r="12.3" fill="#1E90FF" stroke="#000" stroke-width="2.4"/>
<text x="367.8" y="1687.6" font-size="40.05" text-anchor="start">U1514-late Eocene (bulk)</text>
<circle cx="310.5" cy="1752.2" r="11.1" fill="none" stroke="#0000FF" stroke-width="3.8"/>
<text x="367.8" y="1765.6" font-size="40.05" text-anchor="start">U1514-late Eocene (&lt;2 µm)</text>
<rect x="1090.2" y="1362.3" width="21.2" height="21.2" fill="#9C6834" stroke="#000" stroke-width="2.8"/>
<g fill="none" stroke="#CC66FF" stroke-width="5.4">
<path d="M1096.1 1434L1108.7 1446.6L1096.1 1459.2L1083.5 1446.6Z"/>
</g>
<g stroke="#0000FF" stroke-width="5" fill="none">
<path d="M1081.9 1513.8H1110M1095.9 1499.8V1527.8"/>
</g>
<g stroke="#D03606" stroke-width="5.4" fill="none">
<path d="M1085.2 1578.7L1109 1602.5M1085.2 1602.5L1109 1578.7"/>
</g>
<g fill="#D03606" stroke="#000" stroke-width="2.5" stroke-linejoin="miter">
<path d="M1098.4 1660.3L1112.6 1684.9L1084.2 1684.9Z"/>
</g>
<path d="M1069.7 1758.9H1085.9M1109.6 1758.9H1126.3" stroke="#000" stroke-width="3.6" stroke-linecap="round" fill="none"/>
<text x="1157.5" y="1387" font-size="40.05" text-anchor="start">Archaean basement</text>
<text x="1154.6" y="1462.2" font-size="40.05" text-anchor="start">Paleo-Mesoproterozoic terrane</text>
<text x="1155.1" y="1531.5" font-size="40.05" text-anchor="start">Neoproterozoic terrane</text>
<text x="1154.6" y="1608" font-size="40.05" text-anchor="start">Naturalist Plateau</text>
<text x="1156" y="1686.6" font-size="40.05" text-anchor="start">Kerguelen Plateau</text>
<text x="1155.3" y="1753.6" font-size="40.05" text-anchor="start">mixing curve of Naturalist Plateau</text>
<text x="1157.2" y="1798.7" font-size="40.05" text-anchor="start">and Archaean basement</text>
<ellipse cx="1981.3" cy="1373.4" rx="32.4" ry="19.4" fill="#E9C8CB"/>
<ellipse cx="1981.3" cy="1454.1" rx="32.4" ry="19.4" fill="#C4DFFC"/>
<ellipse cx="1981.3" cy="1532.5" rx="32.4" ry="19.4" fill="#FDD7BE"/>
<ellipse cx="1981.3" cy="1606" rx="32.4" ry="19.4" fill="#C8E8D6"/>
<rect x="1951.2" y="1658.3" width="65.8" height="40.6" fill="#E5E5E5"/>
<text x="2063.3" y="1387" font-size="40.05" text-anchor="start">volcanic source</text>
<text x="2056.8" y="1463.8" font-size="40.05" text-anchor="start">late Eocene-U1514</text>
<text x="2056.7" y="1542.5" font-size="40.05" text-anchor="start">middle Eocene-U1514</text>
<text x="2061.1" y="1616.4" font-size="40.05" text-anchor="start">early Eocene-U1514</text>
<text x="2061.1" y="1691" font-size="40.05" text-anchor="start">Archaean basement</text>
</svg>
</body></html>
